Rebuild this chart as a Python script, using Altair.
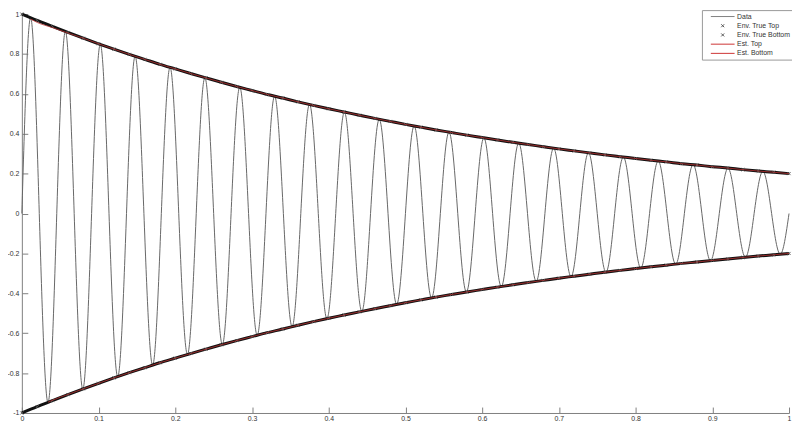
import altair as alt
import pandas as pd

# ---- values ----
data_t = [0.0000, 0.0114, 0.0227, 0.0341, 0.0455, 0.0568, 0.0682, 0.0795, 0.0909, 0.1023,
          0.1136, 0.1250, 0.1364, 0.1477, 0.1591, 0.1705, 0.1818, 0.1932, 0.2045, 0.2159,
          0.2273, 0.2386, 0.2500, 0.2614, 0.2727, 0.2841, 0.2955, 0.3068, 0.3182, 0.3295,
          0.3409, 0.3523, 0.3636, 0.3750, 0.3864, 0.3977, 0.4091, 0.4205, 0.4318, 0.4432,
          0.4545, 0.4659, 0.4773, 0.4886, 0.5000, 0.5114, 0.5227, 0.5341, 0.5455, 0.5568,
          0.5682, 0.5795, 0.5909, 0.6023, 0.6136, 0.6250, 0.6364, 0.6477, 0.6591, 0.6705,
          0.6818, 0.6932, 0.7045, 0.7159, 0.7273, 0.7386, 0.7500, 0.7614, 0.7727, 0.7841,
          0.7955, 0.8068, 0.8182, 0.8295, 0.8409, 0.8523, 0.8636, 0.8750, 0.8864, 0.8977,
          0.9091, 0.9205, 0.9318, 0.9432, 0.9545, 0.9659, 0.9773, 0.9886, 1.0000]
data_v = [0, 0.982, 0, -0.947, 0, 0.913, 0, -0.880, 0, 0.848, 0, -0.818, 0, 0.788, 0, -0.760,
          0, 0.733, 0, -0.706, 0, 0.681, 0, -0.657, 0, 0.633, 0, -0.610, 0, 0.588, 0, -0.567,
          0, 0.547, 0, -0.527, 0, 0.508, 0, -0.490, 0, 0.472, 0, -0.455, 0, 0.439, 0, -0.423,
          0, 0.408, 0, -0.393, 0, 0.379, 0, -0.366, 0, 0.353, 0, -0.340, 0, 0.328, 0, -0.316,
          0, 0.305, 0, -0.294, 0, 0.283, 0, -0.273, 0, 0.263, 0, -0.254, 0, 0.245, 0, -0.236,
          0, 0.227, 0, -0.219, 0, 0.211, 0, -0.204, 0]

env_t = [0.00, 0.02, 0.04, 0.06, 0.08, 0.10, 0.12, 0.14, 0.16, 0.18,
         0.20, 0.22, 0.24, 0.26, 0.28, 0.30, 0.32, 0.34, 0.36, 0.38,
         0.40, 0.42, 0.44, 0.46, 0.48, 0.50, 0.52, 0.54, 0.56, 0.58,
         0.60, 0.62, 0.64, 0.66, 0.68, 0.70, 0.72, 0.74, 0.76, 0.78,
         0.80, 0.82, 0.84, 0.86, 0.88, 0.90, 0.92, 0.94, 0.96, 0.98, 1.00]
env_top = [1.000, 0.968, 0.938, 0.908, 0.879, 0.851, 0.824, 0.798, 0.773, 0.748,
           0.725, 0.702, 0.680, 0.658, 0.637, 0.617, 0.597, 0.579, 0.560, 0.542,
           0.525, 0.509, 0.493, 0.477, 0.462, 0.447, 0.433, 0.419, 0.406, 0.393,
           0.381, 0.369, 0.357, 0.346, 0.335, 0.324, 0.314, 0.304, 0.294, 0.285,
           0.276, 0.267, 0.259, 0.250, 0.243, 0.235, 0.228, 0.220, 0.213, 0.207, 0.200]
env_bottom = [-1.000, -0.968, -0.938, -0.908, -0.879, -0.851, -0.824, -0.798, -0.773, -0.748,
              -0.725, -0.702, -0.680, -0.658, -0.637, -0.617, -0.597, -0.579, -0.560, -0.542,
              -0.525, -0.509, -0.493, -0.477, -0.462, -0.447, -0.433, -0.419, -0.406, -0.393,
              -0.381, -0.369, -0.357, -0.346, -0.335, -0.324, -0.314, -0.304, -0.294, -0.285,
              -0.276, -0.267, -0.259, -0.250, -0.243, -0.235, -0.228, -0.220, -0.213, -0.207, -0.200]

est_top_t = [0.0114, 0.02, 0.04, 0.06] + env_t[4:]
est_top_v = [0.975, 0.958, 0.932, 0.905] + env_top[4:]
est_bot_t = [0.0341, 0.04, 0.06] + env_t[4:]
est_bot_v = [-0.946, -0.936, -0.907] + env_bottom[4:]

x_ticks = [0, 0.1, 0.2, 0.3, 0.4, 0.5, 0.6, 0.7, 0.8, 0.9, 1]
y_ticks = [-1, -0.8, -0.6, -0.4, -0.2, 0, 0.2, 0.4, 0.6, 0.8, 1]

names = ["Data", "Env. True Top", "Env. True Bottom", "Est. Top", "Est. Bottom"]
colors = ["#808080", "#555555", "#555555", "#cc3333", "#cc3333"]
LINE = "M-4,0L4,0"
XMARK = "M-0.5,-0.5L0.5,0.5M0.5,-0.5L-0.5,0.5"
shapes = [LINE, XMARK, XMARK, LINE, LINE]

# ---- tables ----
df_data = pd.DataFrame({"t": data_t, "v": data_v, "series": "Data"})
df_env = pd.concat([
    pd.DataFrame({"t": env_t, "v": env_top, "series": "Env. True Top"}),
    pd.DataFrame({"t": env_t, "v": env_bottom, "series": "Env. True Bottom"}),
])
df_est = pd.concat([
    pd.DataFrame({"t": est_top_t, "v": est_top_v, "series": "Est. Top"}),
    pd.DataFrame({"t": est_bot_t, "v": est_bot_v, "series": "Est. Bottom"}),
])

FONT = "Liberation Sans"
AX = "#808080"
H = 403
lab = "datum.value < 0 ? '-' + format(-datum.value, '~g') : format(datum.value, '~g')"

X = alt.X("t:Q", title=None,
          scale=alt.Scale(domain=[0, 1], nice=False, zero=False),
          axis=alt.Axis(values=x_ticks, labelExpr=lab, ticks=False, grid=True,
                        gridDash=[6, 1000], gridDashOffset=1006 - H + 6,
                        gridColor=AX, gridOpacity=1,
                        domainColor=AX, labelFont=FONT, labelFontSize=7,
                        labelColor="#333333", labelPadding=2, labelFlush=False,
                        labelOverlap=False))
Y = alt.Y("v:Q", title=None,
          scale=alt.Scale(domain=[-1, 1], nice=False, zero=False),
          axis=alt.Axis(values=y_ticks, labelExpr=lab, ticks=False, grid=True,
                        gridDash=[6, 1000], gridColor=AX, gridOpacity=1,
                        domainColor=AX, labelFont=FONT, labelFontSize=7,
                        labelColor="#333333", labelPadding=3, labelFlush=False,
                        labelOverlap=False))

leg = alt.Legend(title=None, orient="none", legendX=687, legendY=-4, direction="vertical",
                 padding=3, rowPadding=1.3, labelFont=FONT, labelFontSize=7,
                 labelColor="#333333", labelOffset=11, symbolOffset=14.5, symbolSize=36,
                 symbolStrokeWidth=1, strokeColor="#999999", fillColor="white")

data_line = alt.Chart(df_data).mark_line(interpolate="natural", strokeWidth=1,
                                         color="#666666").encode(x=X, y=Y)

env_band = alt.Chart(df_env).mark_line(interpolate="monotone", strokeWidth=3,
                                       color="#111111").encode(x=X, y=Y, detail="series:N")

env_pts = alt.Chart(df_env).mark_point(filled=False, size=36, strokeWidth=1, opacity=1).encode(
    x=X, y=Y,
    color=alt.Color("series:N", scale=alt.Scale(domain=names, range=colors), legend=leg),
    shape=alt.Shape("series:N", scale=alt.Scale(domain=names, range=shapes), legend=leg),
)

est_lines = alt.Chart(df_est).mark_line(interpolate="monotone", strokeWidth=0.8,
                                        color="#b83232").encode(x=X, y=Y, detail="series:N")

chart = alt.layer(data_line, env_band, env_pts, est_lines).properties(
    width=775, height=H,
    padding={"left": 14, "top": 4, "right": 3, "bottom": 10},
    autosize=alt.AutoSizeParams(type="none"),
    background="white",
).configure_view(stroke=None)

chart.save("out.html", embed_options={"renderer": "svg", "actions": False})
